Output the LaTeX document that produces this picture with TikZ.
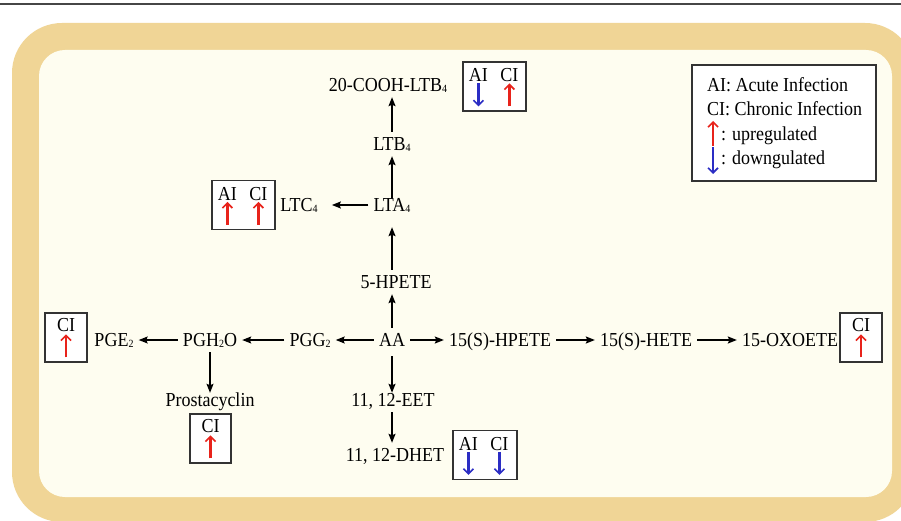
\documentclass[tikz,border=0pt]{standalone}
\usepackage{fontspec}
\usepackage{graphicx}
\setmainfont{Liberation Serif}
\usetikzlibrary{arrows.meta}
\definecolor{frametan}{HTML}{F0D596}
\definecolor{panelcream}{HTML}{FEFDF0}
\definecolor{upred}{HTML}{E8231B}
\definecolor{downblue}{HTML}{2B2DC4}
\definecolor{inkgray}{HTML}{333333}
% small subscript digits as printed in the metabolite names
\newcommand{\subdig}[1]{{\fontsize{10}{10}\selectfont\raisebox{-1pt}{#1}}}
% slightly tall lettering used throughout
\newcommand{\tl}[1]{\scalebox{1}[1.1]{#1}}

\begin{document}
\begin{tikzpicture}[x=1pt,y=-1pt,
  chem/.style={font=\fontsize{18}{20}\selectfont, text height=13pt, text depth=0pt,
               inner xsep=5pt, inner ysep=5.5pt},
  tag/.style={font=\fontsize{18}{20}\selectfont, text height=13pt, text depth=0pt, inner sep=0pt},
  legtxt/.style={font=\fontsize{18}{20}\selectfont, text height=13pt, text depth=0pt,
                 inner sep=0pt, anchor=west},
  flow/.style={-{Stealth[length=9pt,width=7pt,inset=1.5pt]}, line width=1.4pt},
  statbox/.style={draw=inkgray, fill=white, line width=1.2pt, minimum width=#1,
                  minimum height=49pt, inner sep=0pt},
  upar/.style={upred, line width=2.4pt, -{Straight Barb[length=5pt,width=10pt,line width=1.6pt]}},
  dnar/.style={downblue, line width=2.4pt, -{Straight Barb[length=5pt,width=10pt,line width=1.6pt]}}
]
% canvas and frame
\useasboundingbox (0,0) rectangle (901,521);
\fill[white] (0,0) rectangle (901,521);
\draw[line width=1.2pt, gray!55!black] (0,4) -- (901,4);
\begin{scope}
  \clip (0,0) rectangle (901,521);
  \fill[frametan, rounded corners=50pt] (12,23) rectangle (915,522);
\end{scope}
\fill[panelcream, rounded corners=26pt] (39,50) rectangle (892,497);

% metabolites
\node[chem] (cooh)  at (388,85)  {\tl{20-COOH-LTB\subdig{4}}};
\node[chem] (ltb)   at (392,144) {\tl{LTB\subdig{4}}};
\node[chem] (lta)   at (392,205) {\tl{LTA\subdig{4}}};
\node[chem] (ltc)   at (299,205) {\tl{LTC\subdig{4}}};
\node[chem] (hp5)   at (396,282) {\tl{5-HPETE}};
\node[chem] (aa)    at (392,340) {\tl{AA}};
\node[chem] (pgg)   at (310,340) {\tl{PGG\subdig{2}}};
\node[chem] (pgh)   at (210,340) {\tl{PGH\subdig{2}O}};
\node[chem] (pge)   at (114,340) {\tl{PGE\subdig{2}}};
\node[chem] (hp15)  at (500,340) {\tl{15(S)-HPETE}};
\node[chem] (hete)  at (646,340) {\tl{15(S)-HETE}};
\node[chem] (oxo)   at (790,340) {\tl{15-OXOETE}};
\node[chem] (prost) at (210,400) {\tl{Prostacyclin}};
\node[chem] (eet)   at (393,400) {\tl{11, 12-EET}};
\node[chem] (dhet)  at (395,455) {\tl{11, 12-DHET}};

% reactions
\draw[flow] (ltb.north) -- (ltb.north |- cooh.south);
\draw[flow, shorten <=-5pt] (lta.north) -- (lta.north |- ltb.south);
\draw[flow, shorten >=10pt] (lta |- hp5.north) -- (lta.south);
\draw[flow] (aa.north) -- (aa |- hp5.south);
\draw[flow, shorten >=9pt] (lta.west) -- (ltc.east);
\draw[flow] (aa.west) -- (pgg.east);
\draw[flow] (pgg.west) -- (pgh.east);
\draw[flow] (pgh.west) -- (pge.east);
\draw[flow] (aa.east) -- (hp15.west);
\draw[flow] (hp15.east) -- (hete.west);
\draw[flow] (hete.east) -- (oxo.west);
\draw[flow, shorten >=-5pt] (pgh.south) -- (prost.north);
\draw[flow, shorten <=4pt, shorten >=-5pt] (aa.south) -- (aa |- eet.north);
\draw[flow] (aa |- eet.south) -- (aa |- dhet.north);

% regulation boxes
\node[statbox=63pt] (sCooh) at (494.5,86.5) {};
\node[tag] (sCoohAI) at ([shift={(16pt,-14pt)}]sCooh.north west) {\tl{AI}};
\node[tag] (sCoohCI) at ([shift={(47pt,-14pt)}]sCooh.north west) {\tl{CI}};
\draw[dnar] ([shift={(16pt,-22pt)}]sCooh.north west) -- ++(0pt,-23pt);
\draw[upar] ([shift={(47pt,-45pt)}]sCooh.north west) -- ++(0pt,23pt);

\node[statbox=63pt] (sLtc) at (243.5,205) {};
\node[tag] (sLtcAI) at ([shift={(16pt,-14pt)}]sLtc.north west) {\tl{AI}};
\node[tag] (sLtcCI) at ([shift={(47pt,-14pt)}]sLtc.north west) {\tl{CI}};
\draw[upar] ([shift={(16pt,-45pt)}]sLtc.north west) -- ++(0pt,23pt);
\draw[upar] ([shift={(47pt,-45pt)}]sLtc.north west) -- ++(0pt,23pt);

\node[statbox=42pt] (sPge) at (66,337.5) {};
\node[tag] (sPgeCI) at ([yshift=-13pt]sPge.north) {\tl{CI}};
\draw[upar] ([yshift=-45pt]sPge.north) -- ++(0pt,23pt);

\node[statbox=42pt] (sOxo) at (861,337.5) {};
\node[tag] (sOxoCI) at ([yshift=-13pt]sOxo.north) {\tl{CI}};
\draw[upar] ([yshift=-45pt]sOxo.north) -- ++(0pt,23pt);

\node[statbox=41pt] (sProst) at (210.5,438.5) {};
\node[tag] (sProstCI) at ([yshift=-13pt]sProst.north) {\tl{CI}};
\draw[upar] ([yshift=-45pt]sProst.north) -- ++(0pt,23pt);

\node[statbox=64pt] (sDhet) at (485,455) {};
\node[tag] (sDhetAI) at ([shift={(16pt,-14pt)}]sDhet.north west) {\tl{AI}};
\node[tag] (sDhetCI) at ([shift={(47pt,-14pt)}]sDhet.north west) {\tl{CI}};
\draw[dnar] ([shift={(16pt,-22pt)}]sDhet.north west) -- ++(0pt,-23pt);
\draw[dnar] ([shift={(47pt,-22pt)}]sDhet.north west) -- ++(0pt,-23pt);

% legend
\node[draw=inkgray, fill=white, line width=1.2pt, minimum width=184pt,
      minimum height=116pt, inner sep=0pt] (legend) at (784,123) {};
\node[legtxt] (lgAI) at (707,85)  {\tl{AI: Acute Infection}};
\node[legtxt] (lgCI) at (707,109) {\tl{CI: Chronic Infection}};
\node[legtxt] (lgUp) at (721,134) {\tl{: upregulated}};
\node[legtxt] (lgDn) at (721,158) {\tl{: downgulated}};
\draw[upar] ([shift={(-8pt,-12pt)}]lgUp.west) -- ++(0pt,25pt);
\draw[dnar] ([shift={(-8pt,11pt)}]lgDn.west) -- ++(0pt,-27pt);
\end{tikzpicture}
\end{document}
